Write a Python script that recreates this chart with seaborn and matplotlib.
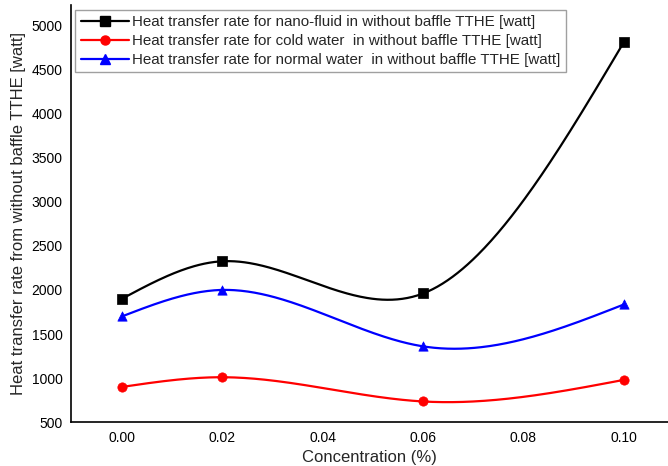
import numpy as np
import pandas as pd
import matplotlib
matplotlib.use("Agg")
import matplotlib.pyplot as plt
import seaborn as sns
from matplotlib.lines import Line2D

concentration = [0.00, 0.02, 0.06, 0.10]
nano_fluid = [1900, 2325, 1960, 4810]
cold_water = [900, 1010, 735, 980]
normal_water = [1700, 2000, 1360, 1835]
labels = [
    "Heat transfer rate for nano-fluid in without baffle TTHE [watt]",
    "Heat transfer rate for cold water  in without baffle TTHE [watt]",
    "Heat transfer rate for normal water  in without baffle TTHE [watt]",
]
x_ticks = [0.00, 0.02, 0.04, 0.06, 0.08, 0.10]
y_ticks = [500, 1000, 1500, 2000, 2500, 3000, 3500, 4000, 4500, 5000]


def natural_spline(x, y, n=300):
    x = np.asarray(x, float)
    y = np.asarray(y, float)
    m = len(x)
    h = np.diff(x)
    A = np.zeros((m, m))
    b = np.zeros(m)
    A[0, 0] = A[-1, -1] = 1
    for i in range(1, m - 1):
        A[i, i - 1] = h[i - 1]
        A[i, i] = 2 * (h[i - 1] + h[i])
        A[i, i + 1] = h[i]
        b[i] = 6 * ((y[i + 1] - y[i]) / h[i] - (y[i] - y[i - 1]) / h[i - 1])
    M = np.linalg.solve(A, b)
    xs = np.linspace(x[0], x[-1], n)
    ys = np.empty_like(xs)
    for k, xv in enumerate(xs):
        i = min(np.searchsorted(x, xv, side="right") - 1, m - 2)
        t1 = x[i + 1] - xv
        t0 = xv - x[i]
        ys[k] = (M[i] * t1 ** 3 / (6 * h[i]) + M[i + 1] * t0 ** 3 / (6 * h[i])
                 + (y[i] / h[i] - M[i] * h[i] / 6) * t1
                 + (y[i + 1] / h[i] - M[i + 1] * h[i] / 6) * t0)
    return xs, ys


sns.set_theme(style="white")
plt.rcParams["font.family"] = ["Liberation Sans", "DejaVu Sans"]

fig = plt.figure(figsize=(6.68, 4.66), dpi=100)
ax = fig.add_axes([0.106, 0.094, 0.894, 0.895])

series = [(nano_fluid, "black", "s"), (cold_water, "red", "o"), (normal_water, "blue", "^")]
handles = []
for (vals, color, marker), lab in zip(series, labels):
    xs, ys = natural_spline(concentration, vals)
    sns.lineplot(x=xs, y=ys, ax=ax, color=color, linewidth=1.6, estimator=None, sort=False)
    sns.scatterplot(x=concentration, y=vals, ax=ax, color=color, marker=marker,
                    s=45, edgecolor=color, linewidth=0.5, zorder=5)
    handles.append(Line2D([0], [0], color=color, marker=marker, markersize=6.5,
                          linewidth=1.6, label=lab))

ax.set_xlim(-0.0102, 0.1088)
ax.set_ylim(500, 5230)
ax.set_xticks(x_ticks)
ax.set_xticklabels([f"{v:.2f}" for v in x_ticks])
ax.set_yticks(y_ticks)
ax.tick_params(axis="both", labelsize=10, length=0, pad=6, colors="black")
ax.set_xlabel("Concentration (%)", fontsize=12, labelpad=4)
ax.set_ylabel("Heat transfer rate from without baffle TTHE [watt]", fontsize=12, labelpad=4)
for sp in ["top", "right"]:
    ax.spines[sp].set_visible(False)
for sp in ["left", "bottom"]:
    ax.spines[sp].set_color("black")
    ax.spines[sp].set_linewidth(1.2)

leg = ax.legend(handles=handles, loc="upper left", bbox_to_anchor=(0.0, 1.0),
                fontsize=10.9, frameon=True, fancybox=False, borderpad=0.35,
                labelspacing=0.33, handlelength=3.2, handletextpad=0.2, borderaxespad=0.3)
leg.get_frame().set_edgecolor("#888888")
leg.get_frame().set_linewidth(1.0)

fig.savefig("out.png", dpi=100)
